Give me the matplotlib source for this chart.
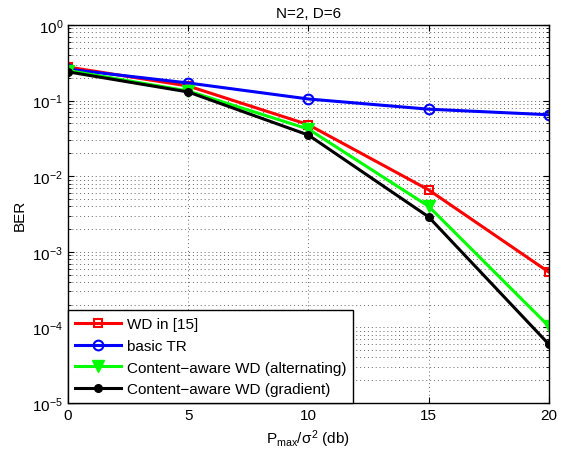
import matplotlib
matplotlib.use("Agg")
import matplotlib.pyplot as plt
from matplotlib.ticker import LogLocator, NullFormatter

plt.rcParams['font.family'] = ['Liberation Sans', 'DejaVu Sans']
plt.rcParams['mathtext.fontset'] = 'custom'
plt.rcParams['mathtext.rm'] = 'Liberation Sans'
plt.rcParams['mathtext.it'] = 'Liberation Sans'

# ---- data ----
snr_db = [0, 5, 10, 15, 20]
ber_wd15 = [0.278, 0.156, 0.048, 0.0066, 5.4e-4]
ber_basic_tr = [0.26, 0.171, 0.105, 0.077, 0.065]
ber_alternating = [0.25, 0.134, 0.042, 0.0040, 1.04e-4]
ber_gradient = [0.24, 0.13, 0.035, 0.0029, 6.0e-5]

labels = ["WD in [15]", "basic TR",
          "Content\u2212aware WD (alternating)", "Content\u2212aware WD (gradient)"]

fig = plt.figure(figsize=(5.74, 4.6), dpi=100)
ax = fig.add_axes([0.1185, 0.1217, 0.8375, 0.8218])

ax.semilogy(snr_db, ber_wd15, color="#ff0000", lw=2.2, marker="s", ms=6,
            mfc="none", mew=1.5, label=labels[0])
ax.semilogy(snr_db, ber_basic_tr, color="#0000ff", lw=2.2, marker="o", ms=7,
            mfc="none", mew=1.5, label=labels[1])
ax.semilogy(snr_db, ber_alternating, color="#00ff00", lw=2.2, marker="v", ms=8,
            mfc="#00ff00", label=labels[2])
ax.semilogy(snr_db, ber_gradient, color="#000000", lw=2.2, marker="o", ms=5.5,
            mfc="#000000", label=labels[3])

ax.set_xlim(0, 20)
ax.set_ylim(1e-5, 1)
ax.set_xticks(snr_db)
ax.yaxis.set_major_locator(LogLocator(base=10, numticks=10))
ax.yaxis.set_minor_locator(LogLocator(base=10, subs=range(2, 10), numticks=20))
ax.yaxis.set_minor_formatter(NullFormatter())

grid_style = dict(linestyle=(0, (1, 3)), color="#666666", lw=0.7)
ax.grid(True, which="major", **grid_style)
ax.grid(True, which="minor", axis="y", **grid_style)
ax.tick_params(which="both", direction="in", top=True, right=True, labelsize=11)
ax.tick_params(which="major", length=4)
ax.tick_params(which="minor", length=2)
for s in ax.spines.values():
    s.set_linewidth(1)

ax.set_title("N=2, D=6", fontsize=11)
ax.set_xlabel(r"P$_{\rm max}$/$\sigma^2$ (db)", fontsize=11)
ax.set_ylabel("BER", fontsize=11)

leg = ax.legend(loc="lower left", fontsize=11, fancybox=False, framealpha=1,
                edgecolor="black", borderaxespad=0, handlelength=3,
                borderpad=0.45, labelspacing=0.5, handletextpad=0.4)
leg.get_frame().set_linewidth(1)

fig.savefig("out.png", dpi=100)
